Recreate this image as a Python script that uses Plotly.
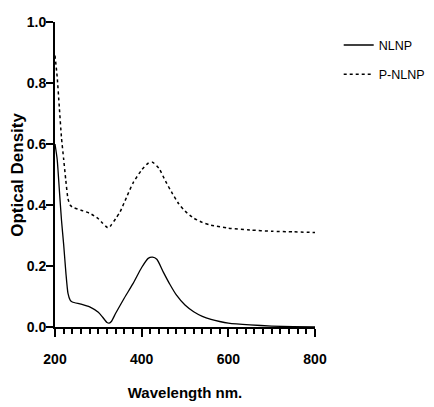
import plotly.graph_objects as go

# NLNP (solid)
nlnp_wl = [200, 205, 210, 215, 220, 225, 230, 235, 240, 260, 280, 300, 310, 320, 325, 330,
           340, 360, 380, 400, 415, 425, 435, 450, 465, 480, 500, 520, 540, 560, 580, 600,
           650, 700, 750, 800]
nlnp_od = [0.60, 0.55, 0.45, 0.35, 0.27, 0.18, 0.11, 0.088, 0.082, 0.075, 0.066, 0.048, 0.032,
           0.015, 0.013, 0.018, 0.045, 0.095, 0.142, 0.195, 0.225, 0.229, 0.222, 0.18, 0.14,
           0.105, 0.072, 0.05, 0.035, 0.025, 0.018, 0.013, 0.007, 0.003, 0.001, 0.0]

# P-NLNP (dotted)
pnlnp_wl = [200, 205, 210, 215, 220, 225, 230, 235, 240, 260, 280, 300, 310, 320, 325, 330,
            340, 350, 365, 380, 400, 415, 425, 440, 455, 470, 485, 500, 520, 540, 560, 600,
            650, 700, 750, 800]
pnlnp_od = [0.89, 0.82, 0.72, 0.62, 0.55, 0.48, 0.42, 0.40, 0.393, 0.383, 0.373, 0.355, 0.34,
            0.327, 0.326, 0.335, 0.355, 0.377, 0.425, 0.472, 0.515, 0.537, 0.54, 0.52, 0.478,
            0.44, 0.405, 0.38, 0.357, 0.343, 0.334, 0.324, 0.318, 0.314, 0.312, 0.31]

y_title = "Optical Density"
x_title = "Wavelength nm."

FAMILY = "Liberation Sans Narrow, Arial Narrow, Liberation Sans, Arial, sans-serif"
TICKFONT = dict(family=FAMILY, size=14, color="black", weight="bold")

fig = go.Figure()
fig.add_trace(go.Scatter(x=nlnp_wl, y=nlnp_od, mode="lines", name="NLNP",
                         line=dict(color="black", width=1.3, shape="spline", smoothing=0.6),
                         legendgroup="a"))
fig.add_trace(go.Scatter(x=pnlnp_wl, y=pnlnp_od, mode="lines", name="P-NLNP",
                         line=dict(color="black", width=1.5, dash="dot", shape="spline", smoothing=0.6),
                         legendgroup="b"))

fig.update_layout(
    width=434, height=407,
    margin=dict(l=47, r=127, t=14, b=88),
    plot_bgcolor="white", paper_bgcolor="white",
    showlegend=True,
    legend=dict(xref="container", yref="container", x=0.762, y=0.945,
                xanchor="left", yanchor="top",
                font=dict(family=FAMILY, size=12.5, color="black"),
                itemwidth=30, tracegroupgap=10, bgcolor="rgba(0,0,0,0)"),
    xaxis=dict(range=[200, 800], tickmode="linear", tick0=200, dtick=200, automargin=False,
               showline=True, linecolor="black", linewidth=2, mirror=False,
               ticks="outside", ticklen=8, tickwidth=2, tickcolor="black",
               minor=dict(tickmode="linear", dtick=20, tick0=200, ticks="outside", ticklen=5,
                          tickwidth=1.5, tickcolor="black", showgrid=False),
               showgrid=False, zeroline=False,
               tickfont=TICKFONT,
               ticklabelstandoff=10,
               title=dict(text=x_title, standoff=22,
                          font=dict(family=FAMILY, size=15, color="black", weight="bold"))),
    yaxis=dict(range=[0, 1.0], tickmode="linear", tick0=0, dtick=0.2, tickformat=".1f", automargin=False,
               showline=True, linecolor="black", linewidth=2,
               ticks="outside", ticklen=7, tickwidth=2, tickcolor="black",
               showgrid=False, zeroline=False,
               tickfont=TICKFONT,
               ticklabelstandoff=-3),
    annotations=[dict(text=y_title, xref="paper", yref="paper", x=-0.145, y=0.5,
                      xanchor="center", yanchor="middle", textangle=-90, showarrow=False,
                      font=dict(family="Liberation Sans, Arial, sans-serif", size=17,
                                color="black", weight="bold"))],
)

fig.write_html("out.html")
